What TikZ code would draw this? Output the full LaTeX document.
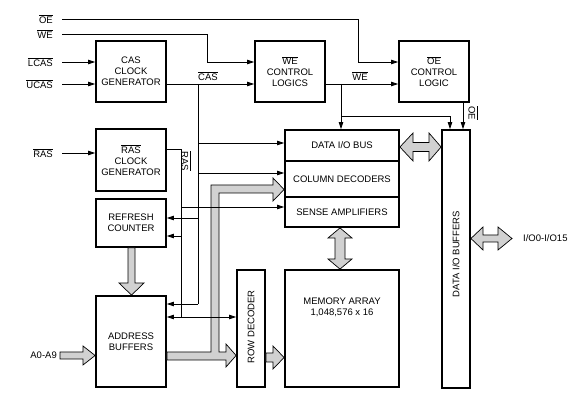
\documentclass[tikz,border=0pt]{standalone}
\usepackage{fontspec}
\setmainfont{Liberation Sans}
\usetikzlibrary{arrows.meta}
\newcommand{\ovl}[1]{$\overline{\mbox{#1}}$}
\begin{document}
\begin{tikzpicture}[x=1pt,y=-1pt,
  every node/.style={font=\fontsize{9.5}{11}\selectfont, inner sep=0pt},
  blk/.style={draw, line width=1.8pt, align=center},
  wire/.style={line width=0.8pt},
  arr/.style={wire, -{Triangle[length=7pt,width=4.5pt]}},
  bus/.style={draw=black, line width=0.7pt, fill=black!18, line join=miter},
  txt/.style={align=center}
]
\useasboundingbox (0,0) rectangle (581,411);

% blocks
\node[blk, minimum width=70pt, minimum height=61pt] (casgen) at (131,71.5) {CAS\\CLOCK\\GENERATOR};
\node[blk, minimum width=70pt, minimum height=62pt] (rasgen) at (131,160) {\ovl{RAS}\\CLOCK\\GENERATOR};
\node[blk, minimum width=70pt, minimum height=48pt] (refresh) at (131,223) {REFRESH\\COUNTER};
\node[blk, minimum width=70pt, minimum height=91pt] (addr) at (131,341.5) {ADDRESS\\BUFFERS};
\node[blk, minimum width=70pt, minimum height=61pt] (welogic) at (290,71.5) {\ovl{WE}\\CONTROL\\LOGICS};
\node[blk, minimum width=70pt, minimum height=61pt] (oelogic) at (434,71.5) {\ovl{OE}\\CONTROL\\LOGIC};
\node[blk, minimum width=114pt, minimum height=31pt] (databus) at (342,145.5) {DATA I/O BUS};
\node[blk, minimum width=114pt, minimum height=36pt] (coldec) at (342,179) {COLUMN DECODERS};
\node[blk, minimum width=114pt, minimum height=30pt] (senseamp) at (342,212) {SENSE AMPLIFIERS};
\node[blk, minimum width=114pt, minimum height=117pt] (memarr) at (342,328.5) {};
\node[txt] (memtxt) at (342,307.5) {MEMORY ARRAY\\1,048,576 x 16};
\node[blk, minimum width=28pt, minimum height=117pt] (rowdec) at (251,328.5) {};
\node[rotate=90] (rowtxt) at (251,327) {ROW DECODER};
\node[blk, minimum width=28pt, minimum height=258pt] (iobuf) at (456,259) {};
\node[rotate=90] (iotxt) at (456,254) {DATA I/O BUFFERS};

% input labels
\node[anchor=east] (oein) at (53,19) {\ovl{OE}};
\node[anchor=east] (wein) at (53,34) {\ovl{WE}};
\node[anchor=east] (lcasin) at (53,62) {\ovl{LCAS}};
\node[anchor=east] (ucasin) at (53,84) {\ovl{UCAS}};
\node[anchor=east] (rasin) at (53,153) {\ovl{RAS}};
\node[anchor=east] (ain) at (57,355.5) {A0-A9};
\node[anchor=west] (ioout) at (523,238.5) {I/O0-I/O15};

% gray buses
\draw[bus] (addr.east |- 0,352) -- (211,352) -- (211,185) -- (273,185) -- (273,178)
  -- (coldec.west |- 0,189.5) -- (273,201) -- (273,193) -- (219,193) -- (219,352)
  -- (226,352) -- (226,344) -- (rowdec.west |- 0,355.5) -- (226,367) -- (226,360)
  -- (addr.east |- 0,360) -- cycle;
\draw[bus] (rowdec.east |- 0,353) -- (273,353) -- (273,346) -- (memarr.west |- 0,357.5)
  -- (273,369) -- (273,362) -- (rowdec.east |- 0,362) -- cycle;
\draw[bus] (refresh.south -| 128,0) -- (128,283) -- (119,283) -- (addr.north -| 131.5,0)
  -- (144,283) -- (135,283) -- (refresh.south -| 135,0) -- cycle;
\draw[bus] (60,352) -- (83,352) -- (83,346) -- (addr.west |- 0,355.5) -- (83,365)
  -- (83,359) -- (60,359) -- cycle;
\draw[bus] (databus.east |- 0,147) -- (413,133) -- (413,142.5) -- (429,142.5) -- (429,133)
  -- (iobuf.west |- 0,147) -- (429,161) -- (429,151.5) -- (413,151.5) -- (413,161) -- cycle;
\draw[bus] (senseamp.south -| 340,0) -- (352,238) -- (345,238) -- (345,259) -- (352,259)
  -- (memarr.north -| 340,0) -- (328,259) -- (335,259) -- (335,238) -- (328,238) -- cycle;
\draw[bus] (iobuf.east |- 0,238.5) -- (483,227) -- (483,235) -- (498,235) -- (498,227)
  -- (512,238.5) -- (498,250) -- (498,242) -- (483,242) -- (483,250) -- cycle;

% control wires
\draw[arr] (62,19) -| (358,62) -- (oelogic.west |- 0,62);
\draw[arr] (62,34) -| (207,62) -- (welogic.west |- 0,62);
\draw[arr] (62,62) -- (casgen.west |- 0,62);
\draw[arr] (62,84) -- (casgen.west |- 0,84);
\draw[arr] (62,153) -- (rasgen.west |- 0,153);

\draw[arr] (casgen.east |- 0,84) -- (welogic.west |- 0,84);
\node (caslbl) at (208,76) {\ovl{CAS}};
\draw[wire] (198,84) -- (198,304);
\draw[arr] (198,143) -- (databus.west |- 0,143);
\draw[arr] (198,173) -- (coldec.west |- 0,173);
\draw[arr] (198,218) -- (refresh.east |- 0,218);
\draw[arr] (198,304) -- (addr.east |- 0,304);

\draw[wire] (rasgen.east |- 0,149) -| (181,317);
\node[rotate=-90] (raslbl) at (186,161) {\ovl{RAS}};
\draw[arr] (181,207) -- (senseamp.west |- 0,207);
\draw[arr] (181,236) -- (refresh.east |- 0,236);
\draw[arr] (181,317) -- (addr.east |- 0,317);
\draw[arr] (181,317) -- (rowdec.west |- 0,317);

\draw[arr] (welogic.east |- 0,84) -- (oelogic.west |- 0,84);
\node (welbl) at (360,76) {\ovl{WE}};
\draw[arr] (341,84) -- (databus.north -| 341,0);
\draw[arr] (341,116) -| (iobuf.north -| 450,0);
\draw[arr] (oelogic.south -| 463,0) -- (iobuf.north -| 463,0);
\node[rotate=-90] (oelbl) at (473,113) {\ovl{OE}};
\end{tikzpicture}
\end{document}
